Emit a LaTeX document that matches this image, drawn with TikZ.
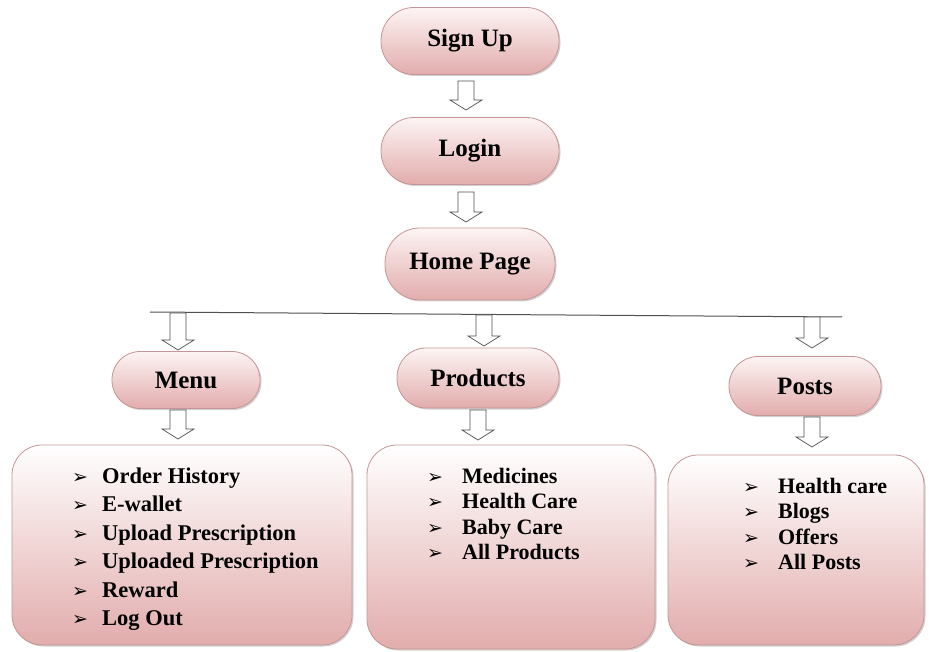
\documentclass[tikz,border=0pt]{standalone}
\usepackage{fontspec}
\setmainfont{Liberation Serif}
\newfontfamily\dejavu{DejaVu Sans}
\usetikzlibrary{calc,shadows}
\definecolor{pinkbot}{RGB}{226,172,172}
\definecolor{pinktop}{RGB}{253,244,244}
\definecolor{pinkedge}{RGB}{196,150,150}
\definecolor{arrowgray}{RGB}{80,80,80}
\newcommand{\bul}[1]{\makebox[#1][l]{\dejavu\fontsize{19}{19}\selectfont ➢}}
\begin{document}
\begin{tikzpicture}[x=1pt,y=-1pt,
  pill/.style={draw=pinkedge, line width=0.8pt, top color=pinktop, bottom color=pinkbot,
    minimum width=#1, inner sep=0pt,
    font=\fontsize{25}{28}\selectfont\bfseries,
    drop shadow={shadow xshift=1.5pt, shadow yshift=-1.5pt, fill=black!40, opacity=0.45}},
  listbox/.style={draw=pinkedge, line width=0.8pt, top color=white, bottom color=pinkbot,
    rounded corners=30pt, inner sep=0pt,
    drop shadow={shadow xshift=1.5pt, shadow yshift=-1.5pt, fill=black!40, opacity=0.45}},
  listtext/.style={inner sep=0pt, align=left, anchor=west, font=\bfseries},
  harrow/.style={draw=arrowgray, fill=white, line width=0.7pt, line join=miter,
    to path={let \p1=(\tikztostart), \p2=(\tikztotarget) in
      (\x1-8pt,\y1) -- (\x1+8pt,\y1) -- (\x1+8pt,\y2+10pt) -- (\x1+16pt,\y2+10pt)
      -- (\x1,\y2) -- (\x1-16pt,\y2+10pt) -- (\x1-8pt,\y2+10pt) -- cycle}},
  bar/.style={draw=arrowgray, line width=1pt}
]
\useasboundingbox (0,0) rectangle (929,652);

% top chain
\node[pill=178pt, minimum height=67pt, rounded corners=33pt] (signup) at (470,41) {Sign Up};
\node[pill=178pt, minimum height=67pt, rounded corners=33pt] (login) at (470,151) {Login};
\node[pill=170pt, minimum height=72pt, rounded corners=35pt] (home) at (470,264) {Home Page};

% second level
\node[pill=148pt, minimum height=57pt, rounded corners=28pt] (menu) at (186,380) {Menu};
\node[pill=162pt, minimum height=60pt, rounded corners=29pt] (products) at (478,378) {Products};
\node[pill=152pt, minimum height=59pt, rounded corners=29pt] (posts) at (805,386) {Posts};

% list boxes
\node[listbox, minimum width=340pt, minimum height=200pt] (menubox) at (182,545) {};
\node[listbox, minimum width=288pt, minimum height=204pt] (prodbox) at (511,547) {};
\node[listbox, minimum width=256pt, minimum height=190pt] (postbox) at (796,550) {};

\node[listtext, font=\fontsize{22.5}{28.5}\selectfont\bfseries] (menulist) at (72,549) {%
\bul{30pt}Order History\\
\bul{30pt}E-wallet\\
\bul{30pt}Upload Prescription\\
\bul{30pt}Uploaded Prescription\\
\bul{30pt}Reward\\
\bul{30pt}Log Out};

\node[listtext, font=\fontsize{22}{25.5}\selectfont\bfseries] (prodlist) at (427,514) {%
\bul{35pt}Medicines\\
\bul{35pt}Health Care\\
\bul{35pt}Baby Care\\
\bul{35pt}All Products};

\node[listtext, font=\fontsize{22}{25.5}\selectfont\bfseries] (postlist) at (743,524) {%
\bul{35pt}Health care\\
\bul{35pt}Blogs\\
\bul{35pt}Offers\\
\bul{35pt}All Posts};

% connectors
\coordinate (a1s) at (466,81);  \coordinate (a1e) at (466,110);
\coordinate (a2s) at (466,192); \coordinate (a2e) at (466,222);
\draw[harrow] (a1s) to (a1e);
\draw[harrow] (a2s) to (a2e);

\coordinate (barL) at (150,312);
\coordinate (barR) at (842,317);
\draw[bar] (barL) -- (barR);

\coordinate (b1s) at (178,313); \coordinate (b1e) at (178,350);
\coordinate (b2s) at (484,315); \coordinate (b2e) at (484,346);
\coordinate (b3s) at (812,317); \coordinate (b3e) at (812,348);
\draw[harrow] (b1s) to (b1e);
\draw[harrow] (b2s) to (b2e);
\draw[harrow] (b3s) to (b3e);

\coordinate (c1s) at (178,410); \coordinate (c1e) at (178,439);
\coordinate (c2s) at (478,410); \coordinate (c2e) at (478,440);
\coordinate (c3s) at (812,417); \coordinate (c3e) at (812,447);
\draw[harrow] (c1s) to (c1e);
\draw[harrow] (c2s) to (c2e);
\draw[harrow] (c3s) to (c3e);
\end{tikzpicture}
\end{document}
